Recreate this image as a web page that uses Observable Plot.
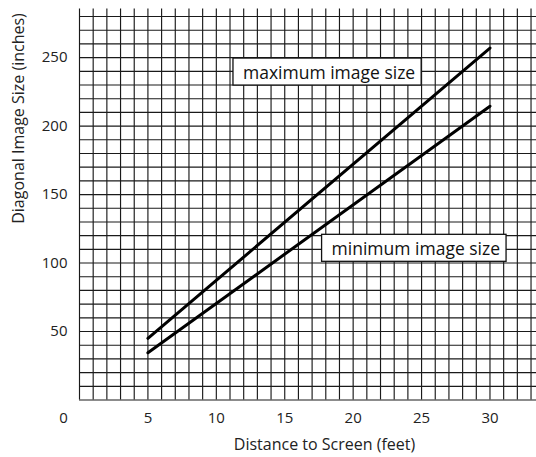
<!DOCTYPE html>
<html><head><meta charset="utf-8">
<script src="https://cdn.jsdelivr.net/npm/d3@7"></script>
<script src="https://cdn.jsdelivr.net/npm/@observablehq/plot@0.6"></script>
<style>body{margin:0;background:#fff} #chart svg{display:block}</style>
</head><body><div id="chart"></div>
<script>
// data
const distance = [5, 30];
const maxSize = [45, 257];
const minSize = [34.5, 214.5];
const xTicks = [5, 10, 15, 20, 25, 30];
const yTicks = [50, 100, 150, 200, 250];
const xGrid = d3.range(0, 34, 1);
const yGrid = d3.range(0, 290, 10);
const labels = ["maximum image size", "minimum image size"];
const labelX = [18.24, 24.58];
const labelY = [238.8, 110.1];

const maxData = distance.map((d, i) => ({x: d, y: maxSize[i]}));
const minData = distance.map((d, i) => ({x: d, y: minSize[i]}));
const labelData = labels.map((t, i) => ({t, x: labelX[i], y: labelY[i]}));

const FONT = "Open Sans";
const chart = Plot.plot({
  width: 536, height: 457,
  marginLeft: 79, marginRight: 0, marginTop: 8.5, marginBottom: 57.5,
  style: {fontFamily: FONT, fontSize: "15px", color: "#222", background: "#fff"},
  x: {domain: [0, 33.4]},
  y: {domain: [0, 285.5]},
  marks: [
    Plot.ruleX(xGrid, {stroke: "#1a1a1a", strokeWidth: 1.15}),
    Plot.ruleY(yGrid, {stroke: "#1a1a1a", strokeWidth: 1.15}),
    Plot.line(maxData, {x: "x", y: "y", stroke: "#000", strokeWidth: 3}),
    Plot.line(minData, {x: "x", y: "y", stroke: "#000", strokeWidth: 3}),
    Plot.axisX({ticks: xTicks, tickSize: 0, tickPadding: 12, label: null, fontSize: 15}),
    Plot.text([0], {x: d => d, y: () => 0, dx: -16, dy: 18, fontSize: 15, fill: "#222"}),
    Plot.axisY({ticks: yTicks, tickSize: 0, tickPadding: 12, label: null, fontSize: 15}),
    Plot.text(["Distance to Screen (feet)"], {frameAnchor: "bottom", lineAnchor: "middle", textAnchor: "middle", dx: 16.5, dy: 45, fontSize: 16, fill: "#222"}),
    Plot.text(["Diagonal Image Size (inches)"], {frameAnchor: "left", lineAnchor: "middle", textAnchor: "middle", rotate: -90, dx: -61, dy: -86, fontSize: 16, fill: "#222"}),
    Plot.text(labelData, {x: "x", y: "y", text: "t", fontSize: 17.5, fill: "#111", className: "anno"})
  ]
});
document.getElementById("chart").appendChild(chart);
// draw white boxes behind the annotation labels
chart.querySelectorAll(".anno text").forEach(t => {
  const b = t.getBBox();
  const tr = t.getAttribute("transform");
  const r = document.createElementNS("http://www.w3.org/2000/svg", "rect");
  r.setAttribute("x", b.x - 10); r.setAttribute("y", b.y - 1.5);
  r.setAttribute("width", b.width + 16); r.setAttribute("height", b.height + 3);
  r.setAttribute("fill", "#fff"); r.setAttribute("stroke", "#111"); r.setAttribute("stroke-width", 1.3);
  if (tr) r.setAttribute("transform", tr);
  t.parentNode.insertBefore(r, t);
});
</script></body></html>
